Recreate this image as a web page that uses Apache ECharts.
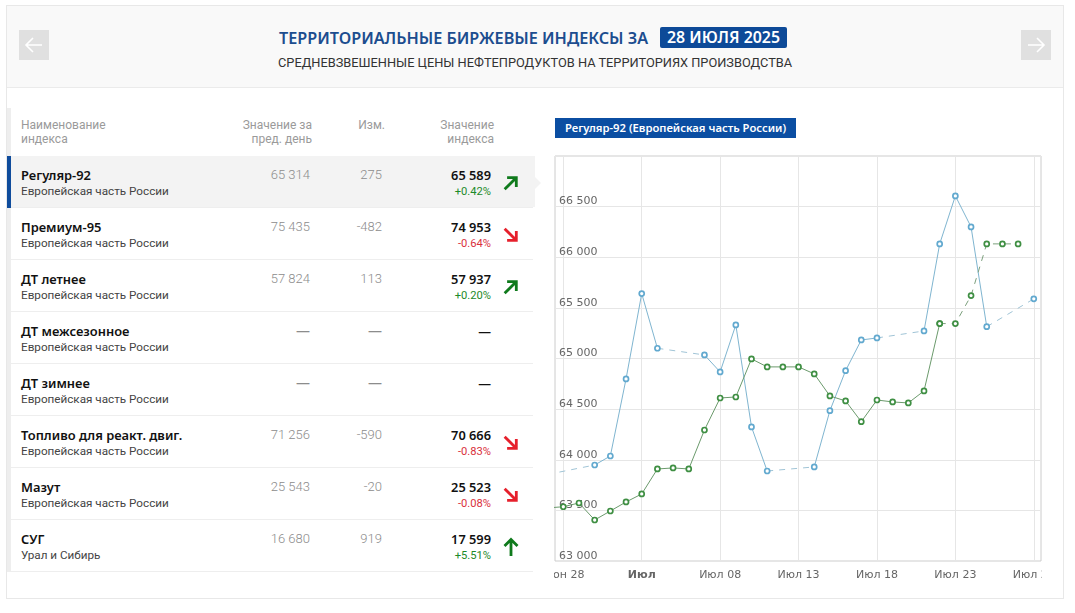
<!DOCTYPE html>
<html lang="ru">
<head>
<meta charset="utf-8">
<title>Территориальные биржевые индексы</title>
<script src="https://cdn.jsdelivr.net/npm/echarts@6/dist/echarts.min.js"></script>
<style>
  html, body { margin: 0; padding: 0; background: #fff; }
  body { width: 1075px; height: 613px; position: relative; overflow: hidden; font-family: Roboto, sans-serif; }
  .abs { position: absolute; }
  #panel { left: 6px; top: 5px; width: 1056px; height: 592px; border: 1px solid #e8e8e8; }
  #head { left: 7px; top: 6px; width: 1056px; height: 81px; background: #f9f9f9; border-bottom: 1px solid #ebebeb; }
  .nav { width: 30px; height: 30px; top: 30px; background: #e0e0e0; }
  #title { left: 279px; top: 27px; height: 22px; font: 600 16.2px/22px "Noto Sans", sans-serif; color: #1c4d8f; white-space: nowrap; }
  #date { left: 660px; top: 27px; width: 127px; height: 21px; text-align: center; font: 600 15.9px/21px "Noto Sans", sans-serif; background: #0d4a98; color: #fff; border-radius: 2px; white-space: nowrap; }
  #subtitle { left: 278px; top: 54px; font: 400 12.8px/18px Roboto, sans-serif; color: #333; white-space: nowrap; }
  #strip { left: 7px; top: 108px; width: 4px; height: 464px; background: #eeeeee; }
  .th { font-size: 12px; line-height: 14px; color: #9a9a9a; white-space: nowrap; }
  .r { text-align: right; }
  .row { left: 11px; width: 522px; height: 51px; border-bottom: 1px solid #eeeeee; }
  .name { left: 10px; top: 10px; font: 600 12.9px/18px "Noto Sans", sans-serif; color: #111; white-space: nowrap; }
  .region { left: 10px; top: 28px; font: 400 11.7px/15px Roboto, sans-serif; color: #444; white-space: nowrap; }
  .prev, .chg { top: 10px; font: 300 13px/18px Roboto, sans-serif; color: #8c8c8c; text-align: right; width: 70px; white-space: nowrap; }
  .dash { font: 400 14px/18px "Noto Sans", sans-serif; }
  .val { top: 10px; left: 400px; width: 80px; font: 600 12.8px/18px "Noto Sans", sans-serif; color: #111; text-align: right; white-space: nowrap; }
  .pct { top: 28px; left: 400px; width: 80px; font: 400 11.2px/15px Roboto, sans-serif; text-align: right; white-space: nowrap; }
  #badge { left: 555px; top: 118px; width: 241px; height: 20px; background: #0b4ea2; color: #fff; text-align: center; font: 600 11.25px/20px "Noto Sans", sans-serif; white-space: nowrap; }
  #chart { left: 554px; top: 150px; width: 488px; height: 445px; }
</style>
</head>
<body>
<div class="abs" id="panel"></div>
<div class="abs" id="head"></div>
<div class="abs nav" style="left:19px"><svg width="30" height="30"><path d="M23 15H8M14 8l-7 7 7 7" fill="none" stroke="#fff" stroke-width="1.6"/></svg></div>
<div class="abs nav" style="left:1021px"><svg width="30" height="30"><path d="M7 15h15M16 8l7 7-7 7" fill="none" stroke="#fff" stroke-width="1.6"/></svg></div>
<div class="abs" id="title"></div>
<div class="abs" id="date"></div>
<div class="abs" id="subtitle"></div>
<div class="abs" id="strip"></div>
<div id="table"></div>
<div class="abs" id="badge"></div>
<div class="abs" id="chart"></div>

<script>
const titleText = 'ТЕРРИТОРИАЛЬНЫЕ БИРЖЕВЫЕ ИНДЕКСЫ ЗА';
const dateText = '28 ИЮЛЯ 2025';
const subtitleText = 'СРЕДНЕВЗВЕШЕННЫЕ ЦЕНЫ НЕФТЕПРОДУКТОВ НА ТЕРРИТОРИЯХ ПРОИЗВОДСТВА';
const badgeText = 'Регуляр-92 (Европейская часть России)';

const indexNames = ['Регуляр-92', 'Премиум-95', 'ДТ летнее', 'ДТ межсезонное', 'ДТ зимнее', 'Топливо для реакт. двиг.', 'Мазут', 'СУГ'];
const indexRegions = ['Европейская часть России', 'Европейская часть России', 'Европейская часть России', 'Европейская часть России', 'Европейская часть России', 'Европейская часть России', 'Европейская часть России', 'Урал и Сибирь'];
const prevValues = ['65 314', '75 435', '57 824', '—', '—', '71 256', '25 543', '16 680'];
const changes = ['275', '-482', '113', '—', '—', '-590', '-20', '919'];
const indexValues = ['65 589', '74 953', '57 937', '—', '—', '70 666', '25 523', '17 599'];
const changePercents = ['+0.42%', '-0.64%', '+0.20%', '', '', '-0.83%', '-0.08%', '+5.51%'];
const arrowKinds = ['ne', 'se', 'ne', '', '', 'se', 'se', 'n'];

// first element is the day before the plot starts, it only gives the lines running off the left edge
const firstDay = -1;
const blueValues = [63855, null, null, 63948, 64037, 64798, 65641, 65101, null, null, 65035, 64867, 65332, 64324, 63889, null, null, 63929, 64485, 64880, 65183, 65203, null, null, 65272, 66132, 66606, 66300, 65314, null, null, 65589];
const greenValues = [63524, 63536, 63573, 63405, 63494, 63583, 63662, 63909, 63919, 63909, 64294, 64610, 64620, 64996, 64917, 64917, 64917, 64848, 64630, 64581, 64376, 64590, 64571, 64561, 64680, 65345];
const greenForecast = [65345, 65345, 65621, 66132, 66132, 66132];
const greenForecastStart = 24;

const tickDays = [0, 5, 10, 15, 20, 25, 30];
const tickLabels = ['Июн 28', 'Июл', 'Июл 08', 'Июл 13', 'Июл 18', 'Июл 23', 'Июл 28'];

const arrowAngle = { ne: 45, se: 135, n: 0 };
const arrowColor = { ne: '#0f7a1c', se: '#e6202c', n: '#0f7a1c' };

function renderHeader() {
  document.getElementById('title').textContent = titleText;
  document.getElementById('date').textContent = dateText;
  document.getElementById('subtitle').textContent = subtitleText;
  document.getElementById('badge').textContent = badgeText;
}

function cell(cls, left, text) {
  const dash = text === '—' ? ' dash' : '';
  return `<div class="abs ${cls}${dash}" style="left:${left}px">${text}</div>`;
}

function renderTable() {
  let html = '<div class="abs th" style="left:21px;top:118px">Наименование<br>индекса</div>'
    + '<div class="abs th r" style="left:212px;width:100px;top:118px">Значение за<br>пред. день</div>'
    + '<div class="abs th r" style="left:335px;width:50px;top:118px">Изм.</div>'
    + '<div class="abs th r" style="left:414px;width:80px;top:118px">Значение<br>индекса</div>';

  indexNames.forEach((name, i) => {
    const top = 156 + i * 52;
    const selected = i === 0;
    const up = changePercents[i].charAt(0) === '+';
    const kind = arrowKinds[i];
    html += `<div class="abs row" style="top:${top}px;${selected ? 'background:#f3f3f3;' : ''}">`
      + `<div class="abs name">${name}</div>`
      + `<div class="abs region">${indexRegions[i]}</div>`
      + cell('prev', 229, prevValues[i])
      + cell('chg', 301, changes[i])
      + `<div class="abs val">${indexValues[i]}</div>`
      + `<div class="abs pct" style="color:${up ? '#1c8a2a' : '#d9303c'}">${changePercents[i]}</div>`;
    if (kind) {
      html += `<svg class="abs" style="left:490px;top:17px" width="20" height="20" viewBox="-10 -10 20 20">`
        + `<path transform="rotate(${arrowAngle[kind]})" d="M0 9V-7M-6.5 -1L0 -7.5L6.5 -1" fill="none" stroke="${arrowColor[kind]}" stroke-width="2.8"/></svg>`;
    }
    html += '</div>';
  });

  // selected row marker
  html += '<div class="abs" style="left:7px;top:156px;width:4px;height:52px;background:#0f4c9c"></div>'
    + '<div class="abs" style="left:533px;top:156px;width:2px;height:51px;background:#f3f3f3"></div>'
    + '<div class="abs" style="left:535px;top:177px;width:0;height:0;border-left:6px solid #f3f3f3;border-top:6px solid transparent;border-bottom:6px solid transparent"></div>';
  document.getElementById('table').innerHTML = html;
}

function toPoints(values, start) {
  return values.map((v, i) => [start + i, v === null ? '-' : v]);
}

// dashed pieces bridging the days without a value
function gapPoints(values, start) {
  const points = [];
  let last = null;
  values.forEach((v, i) => {
    if (v === null) {
      return;
    }
    if (last !== null && i - last > 1) {
      points.push([start + last, values[last]], [start + i, v], ['-', '-']);
    }
    last = i;
  });
  return points;
}

function lineSeries(data, color, extra) {
  return Object.assign({
    type: 'line',
    data,
    smooth: false,
    connectNulls: false,
    symbol: 'circle',
    symbolSize: 5,
    itemStyle: { color: '#fff', borderColor: color, borderWidth: 1.7 },
    lineStyle: { color, width: 1 },
    emphasis: { disabled: true },
  }, extra);
}

function renderChart() {
  const chart = echarts.init(document.getElementById('chart'));
  const blue = '#62a9cf';
  const green = '#3f8f43';
  chart.setOption({
    animation: false,
    grid: { left: 1, right: 1, top: 6, bottom: 34, outerBoundsMode: 'none', show: true, borderColor: '#cccccc', borderWidth: 1, backgroundColor: '#fff' },
    xAxis: {
      type: 'value',
      min: -0.53,
      max: 30.46,
      axisLine: { show: false },
      axisTick: { show: false, customValues: tickDays },
      splitLine: { show: true, lineStyle: { color: '#e6e6e6', width: 1 } },
      axisLabel: {
        customValues: tickDays,
        margin: 9,
        color: '#666',
        fontFamily: 'DejaVu Sans',
        fontSize: 11,
        hideOverlap: false,
        formatter(value) {
          const label = tickLabels[tickDays.indexOf(value)];
          return label === 'Июл' ? '{month|' + label + '}' : label;
        },
        rich: { month: { fontWeight: 'bold', color: '#666', fontFamily: 'DejaVu Sans', fontSize: 11 } },
      },
    },
    yAxis: {
      type: 'value',
      min: 63000,
      max: 67000,
      interval: 500,
      axisLine: { show: false },
      axisTick: { show: false },
      splitLine: { show: true, lineStyle: { color: '#e6e6e6', width: 1 } },
      axisLabel: {
        inside: true,
        margin: 4,
        verticalAlign: 'bottom',
        lineHeight: 10,
        showMaxLabel: false,
        color: '#666',
        fontFamily: 'DejaVu Sans',
        fontSize: 11,
        formatter(value) {
          return String(value).replace(/(\d{3})$/, ' $1');
        },
      },
    },
    series: [
      lineSeries(gapPoints(blueValues, firstDay), '#a0c4d6', { symbol: 'none', lineStyle: { color: '#a0c4d6', width: 1, type: [6, 6] } }),
      lineSeries(toPoints(blueValues, firstDay), blue, { lineStyle: { color: '#7fb5d0', width: 1 } }),
      lineSeries(toPoints(greenValues, firstDay), green, { lineStyle: { color: '#6b9a6c', width: 1 } }),
      lineSeries(toPoints(greenForecast, greenForecastStart), green, { lineStyle: { color: '#7b9f7c', width: 1, type: [6, 6] } }),
    ],
  });
}

renderHeader();
renderTable();
renderChart();
</script>
</body>
</html>
